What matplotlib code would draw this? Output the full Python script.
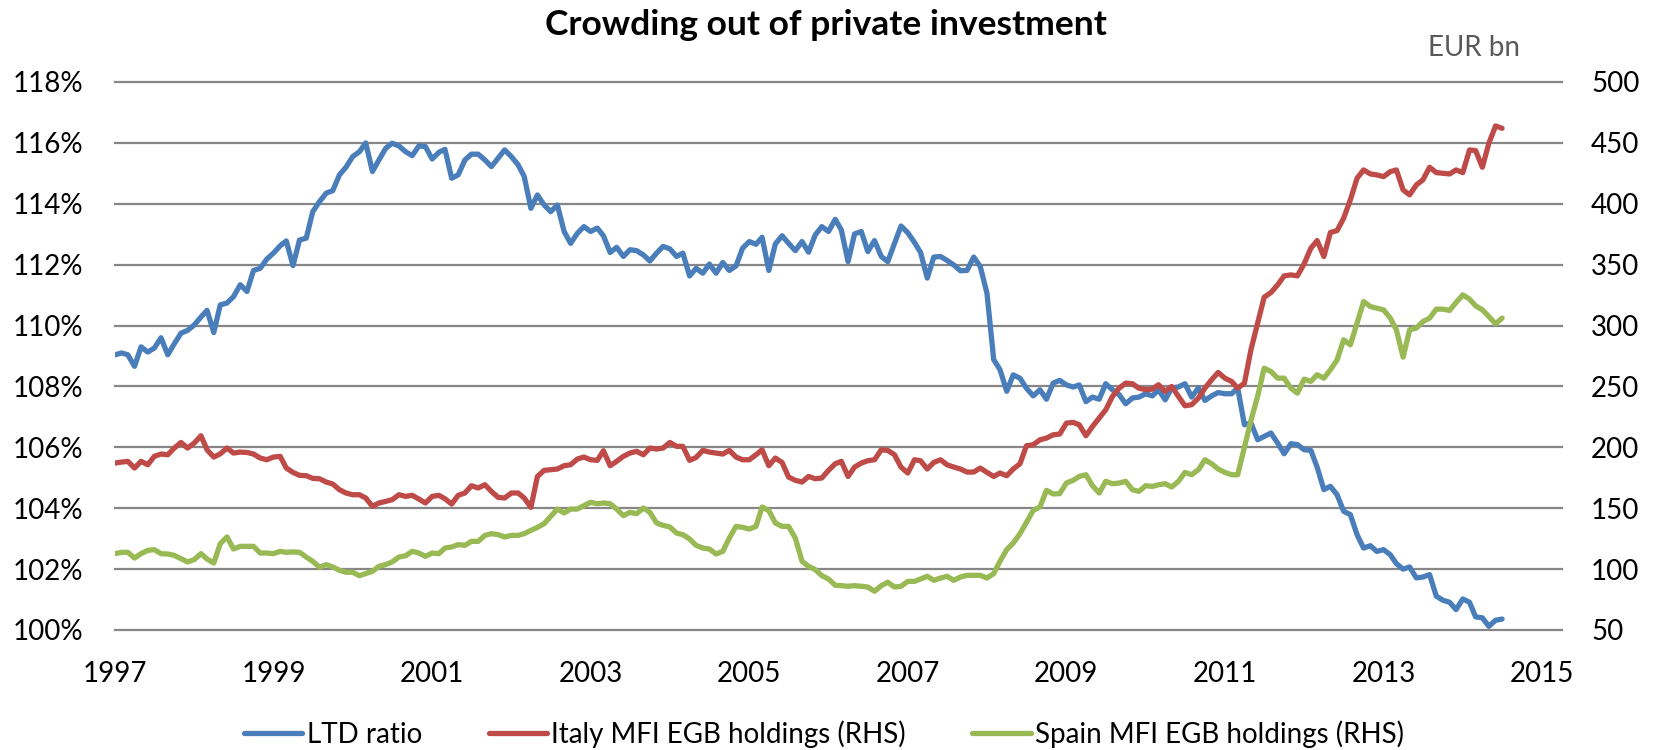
import numpy as np
import pandas as pd
import matplotlib
matplotlib.use("Agg")
import matplotlib.pyplot as plt
from matplotlib.ticker import FuncFormatter

# Monthly series, Jan 1997 - Jul 2014
ltd_ratio = [
    109.04, 109.10, 109.04, 108.66, 109.30, 109.13, 109.26, 109.60, 109.04, 109.40,
    109.75, 109.84, 110.02, 110.28, 110.50, 109.77, 110.68, 110.74, 110.95, 111.34,
    111.12, 111.81, 111.88, 112.18, 112.38, 112.62, 112.78, 111.97, 112.81, 112.87,
    113.74, 114.07, 114.35, 114.43, 114.95, 115.20, 115.55, 115.71, 116.00, 115.06,
    115.44, 115.82, 115.99, 115.90, 115.71, 115.58, 115.90, 115.88, 115.47, 115.69,
    115.79, 114.84, 114.95, 115.44, 115.63, 115.63, 115.44, 115.22, 115.50, 115.77,
    115.55, 115.28, 114.90, 113.85, 114.29, 113.96, 113.74, 113.96, 113.09, 112.70,
    113.03, 113.25, 113.09, 113.20, 112.95, 112.40, 112.57, 112.27, 112.49, 112.46,
    112.32, 112.12, 112.38, 112.60, 112.52, 112.27, 112.38, 111.63, 111.88, 111.72,
    112.02, 111.72, 112.07, 111.81, 111.96, 112.54, 112.76, 112.67, 112.90, 111.81,
    112.68, 112.95, 112.70, 112.46, 112.76, 112.41, 112.98, 113.25, 113.09, 113.49,
    113.14, 112.10, 113.01, 113.09, 112.43, 112.79, 112.27, 112.10, 112.70, 113.27,
    113.05, 112.73, 112.40, 111.56, 112.25, 112.27, 112.14, 111.99, 111.80, 111.81,
    112.25, 111.94, 111.06, 108.88, 108.55, 107.84, 108.38, 108.27, 107.94, 107.69,
    107.89, 107.58, 108.11, 108.20, 108.05, 107.98, 108.05, 107.50, 107.65, 107.58,
    108.09, 107.89, 107.73, 107.43, 107.62, 107.65, 107.76, 107.69, 107.89, 107.56,
    107.95, 107.98, 108.09, 107.65, 107.95, 107.54, 107.69, 107.80, 107.76, 107.76,
    107.95, 106.74, 106.80, 106.25, 106.36, 106.47, 106.14, 105.79, 106.12, 106.09,
    105.92, 105.90, 105.35, 104.61, 104.72, 104.44, 103.90, 103.79, 103.13, 102.69,
    102.77, 102.58, 102.64, 102.47, 102.18, 102.00, 102.07, 101.71, 101.74, 101.82,
    101.11, 100.98, 100.91, 100.67, 101.02, 100.91, 100.43, 100.40, 100.12, 100.32,
    100.36,
]

italy_egb = [
    187.1, 187.9, 188.5, 183.0, 188.5, 185.7, 192.6, 194.5, 193.9, 199.4,
    204.0, 199.4, 203.5, 209.5, 198.0, 192.0, 194.7, 199.4, 195.3, 196.1,
    195.8, 194.5, 191.2, 189.8, 192.0, 192.6, 183.0, 179.4, 177.0, 176.7,
    174.5, 174.2, 171.5, 169.9, 165.2, 162.5, 161.1, 161.1, 158.4, 151.5,
    154.3, 155.6, 157.0, 161.1, 159.7, 160.6, 157.5, 154.3, 159.7, 160.6,
    157.8, 153.4, 160.6, 162.5, 168.5, 166.6, 169.3, 163.8, 158.9, 158.4,
    162.5, 162.5, 158.4, 150.7, 176.1, 181.1, 181.6, 182.2, 184.9, 185.7,
    190.4, 192.0, 189.8, 189.3, 197.2, 184.9, 188.5, 192.6, 195.3, 196.7,
    193.9, 199.4, 198.6, 199.4, 204.0, 200.8, 200.8, 189.3, 191.7, 197.5,
    196.1, 195.3, 194.5, 197.5, 192.0, 189.8, 189.8, 193.9, 198.0, 184.9,
    191.2, 187.6, 175.6, 172.9, 171.5, 176.1, 174.2, 174.8, 181.1, 186.5,
    188.5, 176.1, 183.8, 187.1, 189.0, 189.8, 198.0, 197.5, 193.9, 183.8,
    178.9, 189.8, 189.0, 182.2, 187.6, 189.8, 185.7, 183.8, 182.2, 179.7,
    179.7, 183.0, 179.4, 176.1, 178.9, 176.7, 182.2, 186.5, 201.3, 202.1,
    206.2, 207.6, 210.3, 210.9, 219.9, 220.5, 218.5, 209.5, 217.1, 224.0,
    230.8, 241.8, 248.6, 252.7, 252.2, 248.6, 247.3, 247.8, 251.4, 245.9,
    250.0, 241.8, 234.1, 235.0, 240.4, 248.6, 255.5, 261.5, 256.8, 254.1,
    248.6, 252.7, 280.1, 302.0, 323.3, 327.1, 333.4, 340.8, 341.6, 340.8,
    350.7, 363.5, 369.8, 356.7, 376.4, 378.0, 388.1, 403.2, 421.0, 427.8,
    424.5, 423.7, 422.3, 426.4, 427.8, 411.4, 407.3, 415.5, 419.6, 430.0,
    425.6, 425.1, 424.5, 427.8, 425.6, 444.2, 443.7, 430.0, 449.7, 463.9,
    462.0,
]

spain_egb = [
    112.7, 113.8, 113.8, 109.1, 112.7, 115.4, 116.0, 112.7, 112.4, 111.3,
    108.6, 105.9, 107.8, 112.7, 108.3, 105.0, 120.9, 126.4, 116.5, 118.7,
    118.7, 118.7, 113.2, 113.2, 112.7, 114.6, 113.8, 114.1, 113.8, 109.9,
    106.4, 101.5, 103.7, 101.8, 99.0, 97.4, 97.4, 94.6, 96.3, 98.2,
    102.3, 103.7, 105.9, 109.9, 111.0, 114.6, 113.2, 110.5, 113.2, 112.7,
    117.3, 118.2, 120.1, 119.5, 122.8, 122.8, 127.7, 129.1, 128.3, 126.4,
    127.7, 127.7, 129.1, 131.8, 134.3, 137.3, 143.3, 149.3, 146.1, 149.3,
    149.3, 152.1, 154.8, 153.7, 154.3, 153.7, 149.3, 143.9, 146.6, 145.5,
    150.2, 146.6, 137.9, 135.9, 134.6, 129.6, 128.3, 124.7, 119.5, 117.3,
    116.5, 112.4, 114.6, 125.5, 135.1, 134.3, 132.9, 135.1, 151.0, 148.0,
    137.9, 135.1, 135.1, 125.5, 106.4, 102.3, 99.6, 94.6, 91.9, 86.7,
    86.4, 85.9, 86.4, 85.9, 85.3, 81.8, 86.4, 89.2, 85.3, 85.9,
    89.9, 89.9, 91.9, 94.1, 90.8, 92.7, 94.1, 90.8, 93.5, 94.9,
    94.9, 94.9, 92.7, 96.3, 106.4, 116.0, 121.4, 129.1, 138.4, 148.2,
    151.0, 164.7, 161.7, 162.0, 170.7, 172.9, 176.1, 177.5, 168.5, 162.5,
    172.1, 170.1, 170.7, 172.1, 165.2, 163.8, 168.5, 167.9, 169.3, 170.1,
    167.4, 172.1, 179.4, 177.5, 181.6, 189.8, 186.5, 182.2, 179.4, 177.5,
    177.5, 200.0, 222.0, 242.0, 265.0, 262.3, 256.8, 256.8, 248.6, 244.5,
    256.0, 254.1, 259.6, 256.8, 263.7, 271.9, 288.3, 284.2, 302.0, 319.7,
    315.6, 314.3, 312.9, 306.1, 296.5, 274.1, 296.5, 297.9, 303.3, 306.1,
    313.5, 313.5, 312.4, 318.9, 325.2, 321.7, 316.2, 312.9, 307.4, 301.4,
    306.1,
]

series_labels = ["LTD ratio", "Italy MFI EGB holdings (RHS)", "Spain MFI EGB holdings (RHS)"]
left_ticks = list(range(100, 119, 2))
right_ticks = list(range(50, 501, 50))
year_ticks = list(range(1997, 2016, 2))

BLUE, RED, GREEN = "#4A7EBB", "#BE4B48", "#98B954"
GRID = "#868686"

plt.rcParams["font.family"] = ["Lato", "DejaVu Sans"]
TICK_FS = 20

dates = pd.date_range("1997-01-01", periods=len(ltd_ratio), freq="MS")

fig = plt.figure(figsize=(16.55, 7.5), dpi=100)
W, H = 1655, 750
ax = fig.add_axes([115 / W, 1 - 630 / H, (1562 - 115) / W, (630 - 82) / H])
ax2 = ax.twinx()

# horizontal gridlines shared by both scales
for v in left_ticks:
    ax.axhline(v, color=GRID, lw=1.6, zorder=0, clip_on=False)

line_kw = dict(lw=3.8, solid_joinstyle="round", solid_capstyle="round")
h1, = ax.plot(dates, ltd_ratio, color=BLUE, **line_kw)
h2, = ax2.plot(dates, italy_egb, color=RED, **line_kw)
h3, = ax2.plot(dates, spain_egb, color=GREEN, **line_kw)

ax.set_ylim(100, 118)
ax.set_yticks(left_ticks)
ax.yaxis.set_major_formatter(FuncFormatter(lambda v, p: f"{v:.0f}%"))
ax2.set_ylim(50, 500)
ax2.set_yticks(right_ticks)

ax.set_xlim(dates[0], pd.Timestamp("2015-04-03"))
ax.set_xticks([pd.Timestamp(f"{y}-01-01") for y in year_ticks])
ax.set_xticklabels([str(y) for y in year_ticks])

for a in (ax, ax2):
    for s in a.spines.values():
        s.set_visible(False)
    a.tick_params(length=0, labelsize=TICK_FS, colors="black")
ax.tick_params(axis="y", pad=23)
ax.tick_params(axis="x", pad=22)
ax2.tick_params(axis="y", pad=21)

fig.text(826 / W, 1 - 35 / H, "Crowding out of private investment",
         ha="center", va="baseline", fontsize=25.5, fontweight="bold")
fig.text(1474 / W, 1 - 56 / H, "EUR bn", ha="center", va="baseline",
         fontsize=TICK_FS, color="#595959")

fig.legend([h1, h2, h3], series_labels, loc="center",
           bbox_to_anchor=(824 / W, 1 - 734 / H), ncol=3, frameon=False,
           fontsize=TICK_FS, handlelength=2.1, handletextpad=0.15,
           columnspacing=2.4)

fig.savefig("out.png", dpi=100)
